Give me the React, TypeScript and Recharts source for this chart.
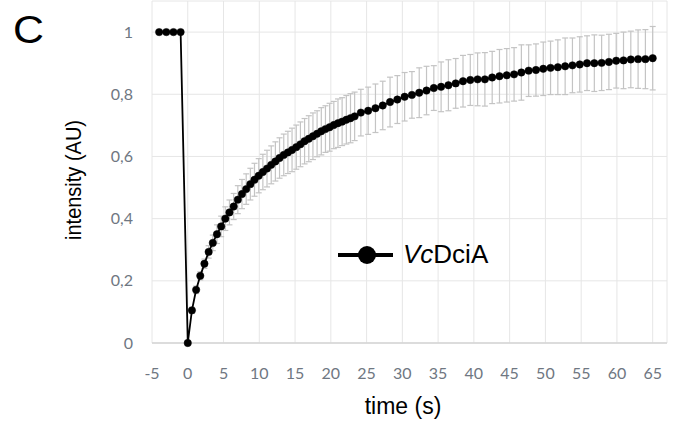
import { LineChart, Line, XAxis, YAxis, CartesianGrid, ErrorBar, Legend } from 'recharts'

// pre-bleach frames
const preTimes = [-4, -3, -2, -1]
const preValues = [1, 1, 1, 1]

// fast acquisition right after the bleach
const fastTimes = [
    0, 0.58, 1.17, 1.75, 2.33, 2.92, 3.5, 4.08, 4.67, 5.25, 5.83, 6.42, 7.0, 7.58, 8.17, 8.75, 9.33, 9.92, 10.5, 11.08,
    11.67, 12.25, 12.83, 13.42, 14.0, 14.58, 15.17, 15.75, 16.33, 16.92, 17.5, 18.08, 18.67, 19.25, 19.83, 20.42, 21.0,
    21.58, 22.17, 22.75, 23.33,
]
const fastValues = [
    0, 0.105, 0.171, 0.216, 0.255, 0.293, 0.322, 0.35, 0.375, 0.4, 0.42, 0.439, 0.461, 0.479, 0.495, 0.511, 0.525, 0.538,
    0.55, 0.561, 0.573, 0.584, 0.595, 0.605, 0.613, 0.621, 0.63, 0.639, 0.649, 0.657, 0.665, 0.673, 0.681, 0.688, 0.694,
    0.701, 0.707, 0.712, 0.718, 0.723, 0.729,
]
const fastErrors = [
    0, 0.01, 0.012, 0.013, 0.015, 0.02, 0.025, 0.03, 0.033, 0.038, 0.04, 0.042, 0.045, 0.047, 0.049, 0.051, 0.053, 0.055,
    0.057, 0.059, 0.061, 0.063, 0.065, 0.067, 0.068, 0.07, 0.071, 0.072, 0.073, 0.074, 0.075, 0.074, 0.076, 0.075, 0.077,
    0.076, 0.078, 0.077, 0.078, 0.079, 0.078,
]

// slower acquisition
const slowTimes = [
    24.2, 25.22, 26.24, 27.26, 28.28, 29.3, 30.32, 31.34, 32.36, 33.38, 34.4, 35.42, 36.44, 37.46, 38.48, 39.5, 40.52,
    41.54, 42.56, 43.58, 44.6, 45.62, 46.64, 47.66, 48.68, 49.7, 50.72, 51.74, 52.76, 53.78, 54.8, 55.82, 56.84, 57.86,
    58.88, 59.9, 60.92, 61.94, 62.96, 63.98, 65.0,
]
const slowValues = [
    0.741, 0.747, 0.755, 0.764, 0.775, 0.783, 0.792, 0.798, 0.805, 0.812, 0.82, 0.824, 0.829, 0.835, 0.842, 0.846, 0.848,
    0.848, 0.854, 0.858, 0.861, 0.864, 0.87, 0.876, 0.878, 0.882, 0.885, 0.887, 0.89, 0.893, 0.896, 0.9, 0.9, 0.901, 0.904,
    0.908, 0.909, 0.912, 0.913, 0.913, 0.916,
]
const slowErrors = [
    0.075, 0.076, 0.078, 0.078, 0.08, 0.077, 0.078, 0.075, 0.08, 0.078, 0.072, 0.08, 0.082, 0.08, 0.083, 0.082, 0.085,
    0.086, 0.084, 0.086, 0.086, 0.086, 0.089, 0.083, 0.084, 0.086, 0.086, 0.088, 0.091, 0.088, 0.089, 0.088, 0.091, 0.089,
    0.089, 0.088, 0.091, 0.091, 0.094, 0.095, 0.102,
]

const xTicks = [-5, 0, 5, 10, 15, 20, 25, 30, 35, 40, 45, 50, 55, 60, 65]
const yTicks = [0, 0.2, 0.4, 0.6, 0.8, 1]

const seriesName = 'VcDciA'

const data = [
    ...preTimes.map((t, i) => ({ t, v: preValues[i], err: 0 })),
    ...fastTimes.map((t, i) => ({ t, v: fastValues[i], err: fastErrors[i] })),
    ...slowTimes.map((t, i) => ({ t, v: slowValues[i], err: slowErrors[i] })),
]

const arial = '"Liberation Sans", Arial, sans-serif'
const tickStyle = { fill: '#6f7782', fontSize: 16, fontFamily: 'Lato, "Open Sans", sans-serif' }

const formatY = (v: number) => (v === 0 || v === 1 ? String(v) : v.toFixed(1).replace('.', ','))

function LegendBox() {
    return (
        <svg width={190} height={40}>
            <line x1={8} y1={17} x2={63} y2={17} stroke="#000" strokeWidth={4} />
            <circle cx={37} cy={17} r={9} fill="#000" />
            <text x={73} y={25} fontFamily={arial} fontSize={26} fill="#000">
                <tspan fontStyle="italic">{seriesName.slice(0, 2)}</tspan>
                {seriesName.slice(2)}
            </text>
        </svg>
    )
}

export default function App() {
    return (
        <div style={{ position: 'absolute', left: 0, top: 0, width: 674, height: 422, background: '#fff' }}>
            <LineChart width={674} height={422} data={data} margin={{ top: 1, right: 7, bottom: 49, left: 0 }}>
                <CartesianGrid stroke="#e6e6e6" strokeWidth={1} />
                <XAxis
                    dataKey="t"
                    type="number"
                    domain={[-5, 67]}
                    ticks={xTicks}
                    interval={0}
                    height={30}
                    tick={tickStyle}
                    tickLine={false}
                    tickSize={0}
                    tickMargin={25}
                    axisLine={{ stroke: '#d4d4d4', strokeWidth: 1.5 }}
                />
                <YAxis
                    type="number"
                    domain={[0, 1.1]}
                    ticks={yTicks}
                    width={152}
                    tick={tickStyle}
                    tickFormatter={formatY}
                    tickLine={false}
                    tickSize={0}
                    tickMargin={19}
                    axisLine={false}
                />
                <Legend
                    verticalAlign="middle"
                    align="center"
                    content={() => <LegendBox />}
                    wrapperStyle={{ left: 330, top: 238, width: 190, height: 40 }}
                />
                <Line dataKey="v" stroke="none" dot={false} isAnimationActive={false} legendType="none">
                    <ErrorBar dataKey="err" width={3} stroke="#c4c4c4" strokeWidth={1.2} direction="y" />
                </Line>
                <Line
                    dataKey="v"
                    type="linear"
                    stroke="#000"
                    strokeWidth={1.8}
                    dot={{ r: 3.7, fill: '#000', stroke: '#000', strokeWidth: 0.5 }}
                    isAnimationActive={false}
                />
            </LineChart>
            <svg
                width={674}
                height={422}
                style={{ position: 'absolute', left: 0, top: 0, pointerEvents: 'none' }}
            >
                <text transform="translate(13,43) scale(1.1,1)" fontFamily={arial} fontSize={39} fill="#000">
                    C
                </text>
                <text
                    transform="translate(81,180) rotate(-90) scale(1,1.12)"
                    textAnchor="middle"
                    fontFamily={arial}
                    fontSize={20}
                    fill="#000"
                >
                    intensity (AU)
                </text>
                <text x={403} y={414} textAnchor="middle" fontFamily={arial} fontSize={23} fill="#000">
                    time (s)
                </text>
            </svg>
        </div>
    )
}
